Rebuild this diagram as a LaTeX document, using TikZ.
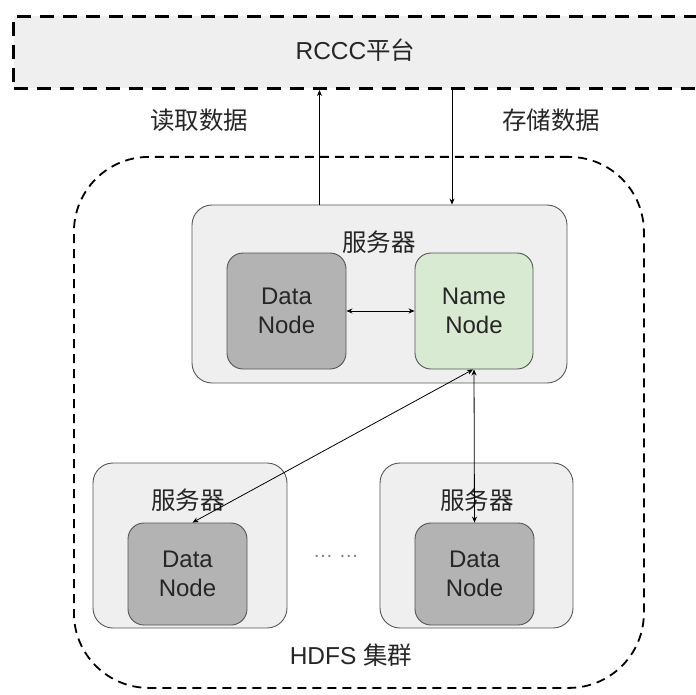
\documentclass[tikz,border=0pt]{standalone}
\usepackage{fontspec}
\setmainfont{Liberation Sans}
\newfontfamily\cjk{Noto Sans CJK SC}
\usetikzlibrary{arrows.meta}
\definecolor{boxgray}{HTML}{EFEFEF}
\definecolor{dngray}{HTML}{B3B3B3}
\definecolor{nngreen}{HTML}{D9EAD3}
\definecolor{edgegray}{HTML}{555555}
\tikzset{
  server/.style={draw=edgegray, line width=0.9pt, fill=boxgray, rounded corners=20pt, inner sep=0pt},
  dnbox/.style={draw=edgegray, line width=0.9pt, fill=dngray, rounded corners=16pt, inner sep=0pt,
    align=center, font=\fontsize{24}{29}\selectfont, text=black!85},
  nnbox/.style={dnbox, fill=nngreen},
  lbl/.style={inner sep=0pt, font=\fontsize{24.5}{28}\selectfont\cjk, text=black!85},
  arr/.style={line width=0.8pt, -{Stealth[length=6pt,width=5pt]}},
  darr/.style={line width=0.8pt, {Stealth[length=6pt,width=5pt]}-{Stealth[length=6pt,width=5pt]}},
}
\begin{document}
\begin{tikzpicture}[x=1pt,y=-1pt]
\useasboundingbox (0,0) rectangle (695,695);
% top platform box (extends past right edge)
\node[draw=black, fill=boxgray, line width=3pt, dash pattern=on 14pt off 9pt,
      minimum width=720pt, minimum height=72pt, inner sep=0pt, anchor=north west] (rccc) at (12,15) {};
\node[inner sep=0pt, text=black!85, font=\fontsize{24.5}{28}\selectfont] (rccct) at (355.5,50) {RCCC{\cjk 平台}};
% HDFS cluster
\node[draw=black, line width=1.8pt, dash pattern=on 9pt off 6pt, rounded corners=75pt,
      minimum width=570pt, minimum height=531pt, inner sep=0pt, anchor=north west] (hdfs) at (73,156) {};
% top server
\node[server, minimum width=375pt, minimum height=178pt] (srv1) at (379.5,294) {};
\node[lbl] (srv1l) at (379,242) {服务器};
\node[dnbox, minimum width=119pt, minimum height=116pt] (dn1) at (286.5,311) {Data\\Node};
\node[nnbox, minimum width=118pt, minimum height=116pt] (nn) at (474,311) {Name\\Node};
% bottom servers
\node[server, minimum width=194pt, minimum height=165pt] (srv2) at (190,545.5) {};
\node[lbl] (srv2l) at (188,500) {服务器};
\node[dnbox, minimum width=119pt, minimum height=102pt] (dn2) at (187.5,574) {Data\\Node};
\node[server, minimum width=193pt, minimum height=165pt] (srv3) at (476.5,545.5) {};
\node[lbl] (srv3l) at (477,500) {服务器};
\node[dnbox, minimum width=119pt, minimum height=102pt] (dn3) at (474.5,574) {Data\\Node};
% texts
\node[inner sep=0pt, text=gray, font=\fontsize{20}{22}\selectfont] (dots) at (336,556) {… …};
\node[inner sep=0pt, text=black!85, font=\fontsize{24.5}{28}\selectfont] (hdfsl) at (351,655) {HDFS {\cjk 集群}};
\node[lbl] (read) at (199,120) {读取数据};
\node[lbl] (store) at (551,120) {存储数据};
% connectors
\draw[arr] ([xshift=-60pt]srv1.north) -- ([xshift=-60pt]srv1.north |- rccc.south);
\draw[arr] ([xshift=72.5pt]srv1.north |- rccc.south) -- ([xshift=72.5pt]srv1.north);
\draw[darr] (dn1.east) -- (nn.west);
\draw[darr] ([xshift=-1pt]nn.south) -- ([xshift=5pt]dn2.north);
\draw[darr] (nn.south) -- (dn3.north);
\end{tikzpicture}
\end{document}
